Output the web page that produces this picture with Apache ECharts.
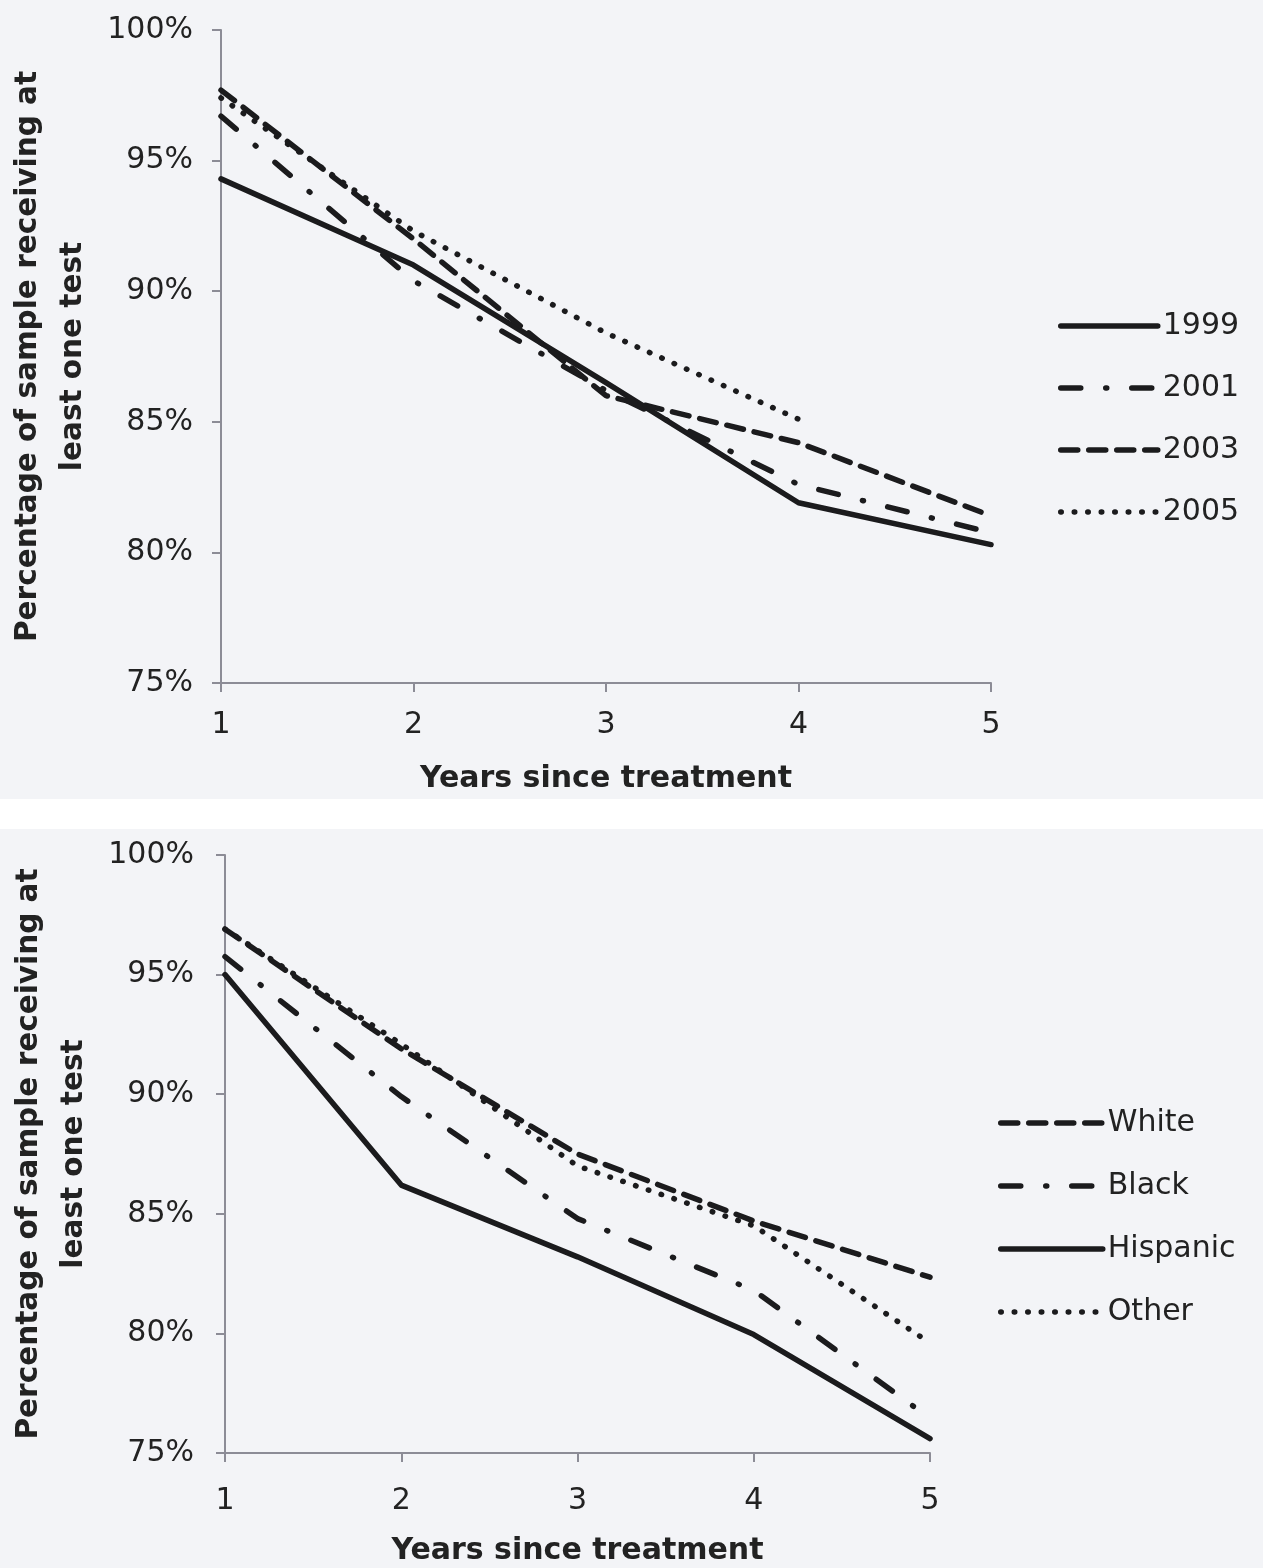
<!DOCTYPE html>
<html>
<head>
<meta charset="utf-8">
<script src="https://cdn.jsdelivr.net/npm/echarts@6/dist/echarts.min.js"></script>
<style>
html,body{margin:0;padding:0;background:#ffffff;}
#c{width:1263px;height:1568px;}
</style>
</head>
<body>
<div id="c"></div>
<script>
// ---- data ----
var years = [1, 2, 3, 4, 5];
var yTickMin = 75, yTickMax = 100, yTickStep = 5;

var cohortNames = ['1999', '2001', '2003', '2005'];
var s1999 = [94.3, 91.0, 86.5, 81.9, 80.3];
var s2001 = [96.7, 90.4, 86.2, 82.6, 80.75];
var s2003 = [97.7, 92.0, 86.0, 84.2, 81.4];
var s2005 = [97.4, 92.3, 88.4, 85.1, null];

var raceNames = ['White', 'Black', 'Hispanic', 'Other'];
var sWhite = [96.9, 91.9, 87.5, 84.7, 82.35];
var sBlack = [95.75, 89.9, 84.8, 81.8, 76.45];
var sHispanic = [95.0, 86.2, 83.2, 79.95, 75.6];
var sOther = [96.9, 92.1, 87.0, 84.5, 79.6];

var xTitle = 'Years since treatment';
var yTitle = 'Percentage of sample receiving at\nleast one test';

// ---- helpers ----
function pts(vals) {
  var out = [];
  for (var i = 0; i < years.length; i++) {
    if (vals[i] !== null) out.push([years[i], vals[i]]);
  }
  return out;
}
var INK = '#1b1b1d';
var W = 5.5;
var styles = {
  solid: {type: 'solid'},
  dashdot: {type: [20, 25, 1, 25]},
  dashed: {type: [17, 11]},
  dotted: {type: [0.5, 13]}
};
var cohortStyles = [styles.solid, styles.dashdot, styles.dashed, styles.dotted];
var raceStyles = [styles.dashed, styles.dashdot, styles.solid, styles.dotted];

function lineStyleOf(st) {
  return {color: INK, width: W, type: st.type, cap: 'round', join: 'round', opacity: 1};
}
function mkSeries(name, vals, st, idx) {
  return {
    name: name, type: 'line', xAxisIndex: idx, yAxisIndex: idx,
    data: pts(vals), symbol: 'none', silent: true, animation: false,
    lineStyle: lineStyleOf(st),
    itemStyle: {color: INK}
  };
}
function legendData(names, sts) {
  return names.map(function (n, i) {
    return {name: n, lineStyle: lineStyleOf(sts[i]), itemStyle: {opacity: 0}};
  });
}
var tickFont = {fontFamily: 'DejaVu Sans', fontSize: 30, color: '#222'};
var axisLineStyle = {color: '#8c8c96', width: 2};

function xAxisDef(idx, margin, gap) {
  return {
    type: 'value', gridIndex: idx, min: years[0], max: years[years.length - 1], interval: 1,
    name: xTitle, nameLocation: 'middle', nameGap: gap,
    nameTextStyle: {fontFamily: 'DejaVu Sans', fontWeight: 'bold', fontSize: 30, color: '#222'},
    axisLine: {show: true, onZero: false, lineStyle: axisLineStyle},
    axisTick: {show: true, length: 9, lineStyle: axisLineStyle},
    axisLabel: Object.assign({margin: margin}, tickFont),
    splitLine: {show: false}
  };
}
function yAxisDef(idx, margin, gap) {
  return {
    type: 'value', gridIndex: idx, min: yTickMin, max: yTickMax, interval: yTickStep,
    name: yTitle, nameLocation: 'middle', nameGap: gap,
    nameTextStyle: {fontFamily: 'DejaVu Sans', fontWeight: 'bold', fontSize: 29.5, color: '#222', lineHeight: 45},
    axisLine: {show: true, onZero: false, lineStyle: axisLineStyle},
    axisTick: {show: true, length: 9, lineStyle: axisLineStyle},
    axisLabel: Object.assign({margin: margin, formatter: '{value}%'}, tickFont),
    splitLine: {show: false}
  };
}

var chart = echarts.init(document.getElementById('c'), null, {renderer: 'canvas'});
chart.setOption({
  backgroundColor: '#f3f4f7',
  animation: false,
  graphic: [
    {type: 'rect', left: 0, top: 799, shape: {width: 1263, height: 30}, style: {fill: '#ffffff'}, z: -10, silent: true}
  ],
  grid: [
    {left: 221, top: 30, width: 770, height: 653, containLabel: false, outerBoundsMode: 'none'},
    {left: 225, top: 855, width: 705, height: 598, containLabel: false, outerBoundsMode: 'none'}
  ],
  xAxis: [xAxisDef(0, 27, 81), xAxisDef(1, 33, 83)],
  yAxis: [yAxisDef(0, 28, 121), yAxisDef(1, 31, 125)],
  legend: [
    {
      data: legendData(cohortNames, cohortStyles), orient: 'vertical', left: 1058, top: 311, padding: 0,
      itemWidth: 97, itemHeight: 30, itemGap: 32,
      itemStyle: {opacity: 0},
      textStyle: {fontFamily: 'DejaVu Sans', fontSize: 30, color: '#222'},
      selectedMode: false
    },
    {
      data: legendData(raceNames, raceStyles), orient: 'vertical', left: 998, top: 1108, padding: 0,
      itemWidth: 102, itemHeight: 30, itemGap: 33,
      itemStyle: {opacity: 0},
      textStyle: {fontFamily: 'DejaVu Sans', fontSize: 30, color: '#222'},
      selectedMode: false
    }
  ],
  series: [
    mkSeries(cohortNames[0], s1999, cohortStyles[0], 0),
    mkSeries(cohortNames[1], s2001, cohortStyles[1], 0),
    mkSeries(cohortNames[2], s2003, cohortStyles[2], 0),
    mkSeries(cohortNames[3], s2005, cohortStyles[3], 0),
    mkSeries(raceNames[0], sWhite, raceStyles[0], 1),
    mkSeries(raceNames[1], sBlack, raceStyles[1], 1),
    mkSeries(raceNames[2], sHispanic, raceStyles[2], 1),
    mkSeries(raceNames[3], sOther, raceStyles[3], 1)
  ]
});
</script>
</body>
</html>
